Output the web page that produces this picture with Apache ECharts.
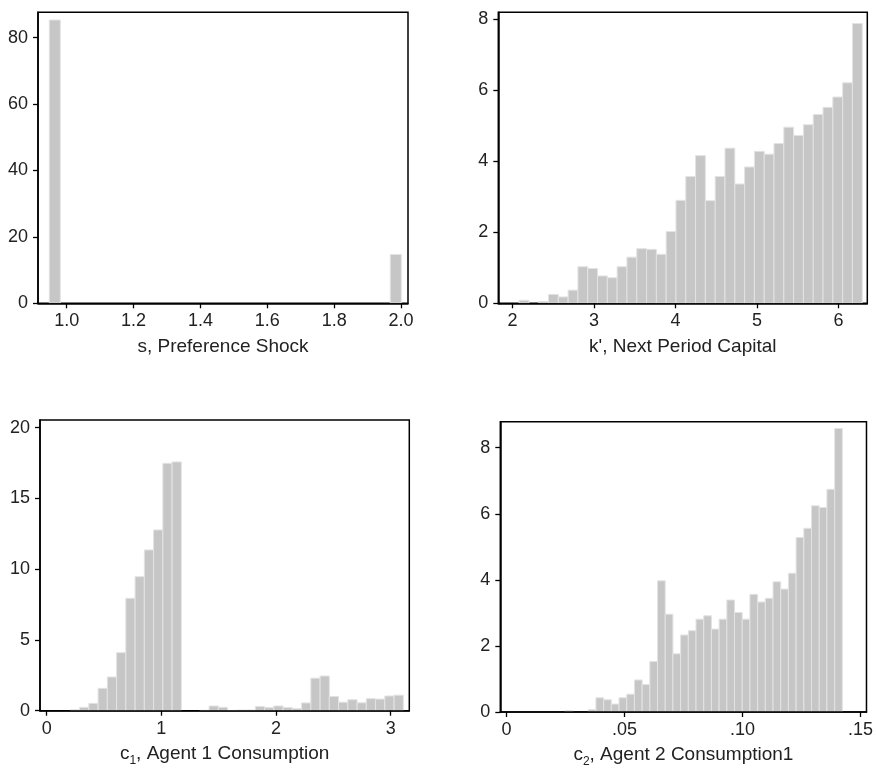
<!DOCTYPE html>
<html>
<head>
<meta charset="utf-8">
<script src="https://cdn.jsdelivr.net/npm/echarts@6/dist/echarts.min.js"></script>
<style>
  html, body { margin: 0; padding: 0; background: #fff; }
  #chart { width: 876px; height: 770px; }
</style>
</head>
<body>
<div id="chart"></div>
<script>
// Histograms (percent of observations per bin) for four simulated variables.

// s, preference shock: 32 bins
const shockBinStart = 0.948;
const shockBinWidth = 0.0329;
const shockPercent = [
  85.3, 0, 0, 0, 0, 0, 0, 0, 0, 0, 0, 0, 0, 0, 0, 0,
  0, 0, 0, 0, 0, 0, 0, 0, 0, 0, 0, 0, 0, 0, 0, 14.7
];

// k', next period capital: 35 bins
const capitalBinStart = 2.081;
const capitalBinWidth = 0.1203;
const capitalPercent = [
  0.085, 0, 0.05, 0.25, 0.18, 0.37, 1.03, 0.98, 0.77, 0.72,
  1.03, 1.30, 1.54, 1.52, 1.38, 2.02, 2.90, 3.57, 4.16, 2.89,
  3.57, 4.37, 3.36, 3.84, 4.28, 4.20, 4.50, 4.96, 4.73, 5.03,
  5.32, 5.52, 5.81, 6.21, 7.88
];

// c1, agent 1 consumption: 36 bins
const c1BinStart = 0.2064;
const c1BinWidth = 0.08067;
const c1Percent = [
  0.06, 0.24, 0.52, 1.58, 2.38, 4.10, 7.94, 9.47, 11.36, 12.77,
  17.48, 17.58, 0, 0, 0.03, 0.33, 0.24, 0.02, 0.05, 0.05,
  0.30, 0.22, 0.33, 0.22, 0.14, 0.55, 2.30, 2.45, 1.00, 0.60,
  0.78, 0.56, 0.85, 0.82, 1.04, 1.10
];

// c2, agent 2 consumption: 36 bins
const c2BinStart = 0.0248;
const c2BinWidth = 0.003264;
const c2Percent = [
  0.04, 0, 0, 0.07, 0.43, 0.37, 0.24, 0.43, 0.54, 0.97,
  0.83, 1.53, 3.97, 2.96, 1.76, 2.33, 2.46, 2.81, 2.91, 2.51,
  2.81, 3.39, 3.01, 2.81, 3.56, 3.33, 3.44, 3.94, 3.72, 4.20,
  5.28, 5.56, 6.24, 6.19, 6.74, 8.58
];

// Axis tick values and their labels
const shockTicks = [1.0, 1.2, 1.4, 1.6, 1.8, 2.0];
const shockTickLabels = ['1.0', '1.2', '1.4', '1.6', '1.8', '2.0'];
const capitalTicks = [2, 3, 4, 5, 6];
const capitalTickLabels = ['2', '3', '4', '5', '6'];
const c1Ticks = [0, 1, 2, 3];
const c1TickLabels = ['0', '1', '2', '3'];
const c2Ticks = [0, 0.05, 0.10, 0.15];
const c2TickLabels = ['0', '.05', '.10', '.15'];

const shockPercentTicks = [0, 20, 40, 60, 80];
const capitalPercentTicks = [0, 2, 4, 6, 8];
const c1PercentTicks = [0, 5, 10, 15, 20];
const c2PercentTicks = [0, 2, 4, 6, 8];

// Axis titles
const shockTitle = 's, Preference Shock';
const capitalTitle = "k', Next Period Capital";
const c1Title = '{m|c}{s|1}{m|, Agent 1 Consumption}';
const c2Title = '{m|c}{s|2}{m|, Agent 2 Consumption1}';

const FONT = '"Liberation Sans", Arial, Helvetica, sans-serif';
const INK = '#222';

function toBins(start, width, heights) {
  const out = [];
  heights.forEach((h, i) => {
    if (h > 0) out.push([start + i * width, start + (i + 1) * width, h]);
  });
  return out;
}

function labelFor(ticks, labels) {
  return function (v) {
    let best = 0;
    for (let i = 1; i < ticks.length; i++) {
      if (Math.abs(ticks[i] - v) < Math.abs(ticks[best] - v)) best = i;
    }
    return labels[best];
  };
}

const panels = [
  {
    grid: { left: 38, top: 12.3, width: 370, height: 291 },
    xMin: 0.9142, xMax: 2.0209, yMax: 87.63,
    xTicks: shockTicks, xLabels: shockTickLabels, yTicks: shockPercentTicks,
    title: shockTitle, bins: toBins(shockBinStart, shockBinWidth, shockPercent)
  },
  {
    grid: { left: 498.3, top: 12.3, width: 369, height: 291 },
    xMin: 1.8258, xMax: 6.3534, yMax: 8.197,
    xTicks: capitalTicks, xLabels: capitalTickLabels, yTicks: capitalPercentTicks,
    title: capitalTitle, bins: toBins(capitalBinStart, capitalBinWidth, capitalPercent)
  },
  {
    grid: { left: 40, top: 420, width: 369.3, height: 290.7 },
    xMin: -0.0582, xMax: 3.1625, yMax: 20.54,
    xTicks: c1Ticks, xLabels: c1TickLabels, yTicks: c1PercentTicks,
    title: c1Title, bins: toBins(c1BinStart, c1BinWidth, c1Percent)
  },
  {
    grid: { left: 500.3, top: 421.7, width: 368.4, height: 290.3 },
    xMin: -0.00268, xMax: 0.15254, yMax: 8.786,
    xTicks: c2Ticks, xLabels: c2TickLabels, yTicks: c2PercentTicks,
    title: c2Title, bins: toBins(c2BinStart, c2BinWidth, c2Percent)
  }
];

function renderBar(params, api) {
  const top = api.coord([api.value(0), api.value(2)]);
  const base = api.coord([api.value(1), 0]);
  return {
    type: 'rect',
    shape: { x: top[0], y: top[1], width: base[0] - top[0], height: base[1] - top[1] },
    style: { fill: '#c6c6c6', stroke: '#e3e3e3', lineWidth: 1 }
  };
}

const axisLineStyle = { color: '#000', width: 1.5 };

const option = {
  animation: false,
  backgroundColor: '#fff',
  grid: panels.map(p => Object.assign({
    show: true, borderColor: '#000', borderWidth: 1.5, backgroundColor: 'transparent'
  }, p.grid)),
  xAxis: panels.map((p, i) => ({
    gridIndex: i,
    type: 'value',
    min: p.xMin,
    max: p.xMax,
    z: 10,
    axisLine: { show: true, onZero: false, lineStyle: axisLineStyle },
    axisTick: { show: true, length: 5, customValues: p.xTicks, lineStyle: { color: '#000', width: 1.3 } },
    axisLabel: {
      customValues: p.xTicks,
      formatter: labelFor(p.xTicks, p.xLabels),
      margin: 9, fontSize: 18, color: INK, fontFamily: FONT
    },
    splitLine: { show: false },
    name: p.title,
    nameLocation: 'middle',
    nameGap: 30,
    nameTextStyle: {
      fontSize: 19, lineHeight: 26, color: INK, fontFamily: FONT,
      rich: {
        m: { fontSize: 19, lineHeight: 26, color: INK, fontFamily: FONT },
        s: { fontSize: 12, lineHeight: 10, verticalAlign: 'bottom', color: INK, fontFamily: FONT }
      }
    }
  })),
  yAxis: panels.map((p, i) => ({
    gridIndex: i,
    type: 'value',
    min: 0,
    max: p.yMax,
    z: 10,
    axisLine: { show: true, onZero: false, lineStyle: axisLineStyle },
    axisTick: { show: true, length: 5, customValues: p.yTicks, lineStyle: { color: '#000', width: 1.3 } },
    axisLabel: {
      customValues: p.yTicks,
      margin: 10, fontSize: 18, color: INK, fontFamily: FONT
    },
    splitLine: { show: false }
  })),
  series: panels.map((p, i) => ({
    type: 'custom',
    xAxisIndex: i,
    yAxisIndex: i,
    renderItem: renderBar,
    encode: { x: [0, 1], y: 2 },
    data: p.bins,
    clip: true,
    z: 2
  }))
};

const chart = echarts.init(document.getElementById('chart'), null, { renderer: 'canvas' });
chart.setOption(option);
</script>
</body>
</html>
